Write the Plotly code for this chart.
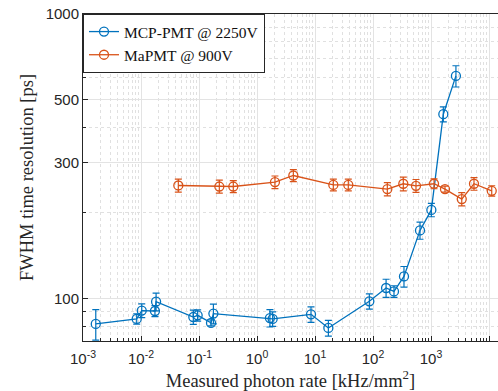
import numpy as np
import plotly.graph_objects as go

# ---- data ----
mcp_rate = [0.00166, 0.00843, 0.0103, 0.0174, 0.0182, 0.0798, 0.0948, 0.161, 0.177,
            1.67, 1.86, 8.53, 17.0, 86.5, 168, 230, 342, 646, 1014, 1630, 2690]
mcp_fwhm = [81.5, 84.9, 90.8, 90.5, 97.6, 86.2, 87.4, 82.2, 88.6,
            85.5, 84.9, 88.1, 78.9, 97.9, 109, 106, 119.7, 173.7, 205, 444.6, 606]
mcp_err = [10, 3.5, 5, 4, 7, 5, 4, 2, 7, 6, 5, 5.5, 5, 6, 8, 5, 10, 12, 11, 27, 52]

ma_rate = [0.044, 0.224, 0.39, 2.04, 4.23, 20.7, 37.5, 176.6, 333, 551, 1127, 1742,
           3388, 5509, 11140]
ma_fwhm = [249.8, 247.7, 247.7, 256.7, 270.8, 251, 251, 242.6, 253.3, 249.2, 253.3,
           242.6, 223.8, 253.3, 239.3]
ma_err = [13, 13, 12, 13, 13, 12, 12, 13, 14, 13, 10, 6, 12, 13, 10]

series_names = ["MCP-PMT @ 2250V", "MaPMT @ 900V"]

x_tickvals = [1e-3, 1e-2, 1e-1, 1e0, 1e1, 1e2, 1e3, 1e4]
x_ticktext = ["10<sup>-3</sup>", "10<sup>-2</sup>", "10<sup>-1</sup>", "10<sup>0</sup>",
              "10<sup>1</sup>", "10<sup>2</sup>", "10<sup>3</sup>", "10<sup>4</sup>"]
y_tickvals = [100, 300, 500, 1000]
y_ticktext = ["100", "300", "500", "1000"]
y_minor = [80, 90, 200, 400, 600, 700, 800, 900]
x_minor = [m * 10.0 ** e for e in range(-3, 5) for m in range(2, 10)]

BLUE = "#0072BD"
ORANGE = "#D95319"
AX = "#262626"

fig = go.Figure()
for name, xs, ys, es, col in [(series_names[0], mcp_rate, mcp_fwhm, mcp_err, BLUE),
                              (series_names[1], ma_rate, ma_fwhm, ma_err, ORANGE)]:
    fig.add_trace(go.Scatter(
        x=xs, y=ys, name=name, mode="lines+markers",
        line=dict(color=col, width=1.3),
        marker=dict(symbol="circle-open", size=9, color=col, line=dict(width=1.3, color=col)),
        error_y=dict(type="data", array=es, visible=True, color=col, thickness=1.2, width=3.5),
    ))

serif = "Times New Roman, Liberation Serif, DejaVu Serif, serif"
sans = "Arial, Liberation Sans, sans-serif"

fig.update_layout(
    width=498, height=391,
    margin=dict(l=83, r=0, t=14, b=50, autoexpand=False),
    paper_bgcolor="white", plot_bgcolor="white",
    showlegend=True,
    legend=dict(x=0, y=1, xanchor="left", yanchor="top",
                bgcolor="white", bordercolor=AX, borderwidth=1,
                font=dict(family=serif, size=15.5, color="#111"),
                tracegroupgap=0, itemwidth=30),
    xaxis=dict(
        type="log", range=[-3, 4.155], automargin=False,
        tickmode="array", tickvals=x_tickvals, ticktext=x_ticktext,
        ticks="inside", ticklen=5, tickcolor=AX, tickwidth=1,
        ticklabelstandoff=4,
        showline=True, linecolor=AX, linewidth=1, mirror=True,
        showgrid=True, gridcolor="#e3e3e3", gridwidth=1,
        zeroline=False,
        tickfont=dict(family=sans, size=15, color="#262626"),
        minor=dict(tickmode="array", tickvals=x_minor, ticks="inside", ticklen=3,
                   tickcolor=AX, showgrid=True, gridcolor="#e0e0e0", griddash="dot"),
        title=dict(text="Measured photon rate [kHz/mm<sup>2</sup>]",
                   font=dict(family=serif, size=18.5, color="#262626"), standoff=5),
    ),
    yaxis=dict(
        type="log", range=[np.log10(71), 3], automargin=False,
        tickmode="array", tickvals=y_tickvals, ticktext=y_ticktext,
        ticks="inside", ticklen=5, tickcolor=AX, tickwidth=1,
        showline=True, linecolor=AX, linewidth=1, mirror=False,
        showgrid=True, gridcolor="#e3e3e3", gridwidth=1,
        zeroline=False,
        tickfont=dict(family=sans, size=15, color="#262626"),
        minor=dict(tickmode="array", tickvals=y_minor, ticks="inside", ticklen=3,
                   tickcolor=AX, showgrid=True, gridcolor="#e0e0e0", griddash="dot"),
        title=dict(text="FWHM time resolution [ps]",
                   font=dict(family=serif, size=18.5, color="#262626"), standoff=7),
    ),
)

fig.write_html("out.html", config={"displayModeBar": False},
               post_script="document.body.style.margin='0';document.body.style.overflow='hidden';")
